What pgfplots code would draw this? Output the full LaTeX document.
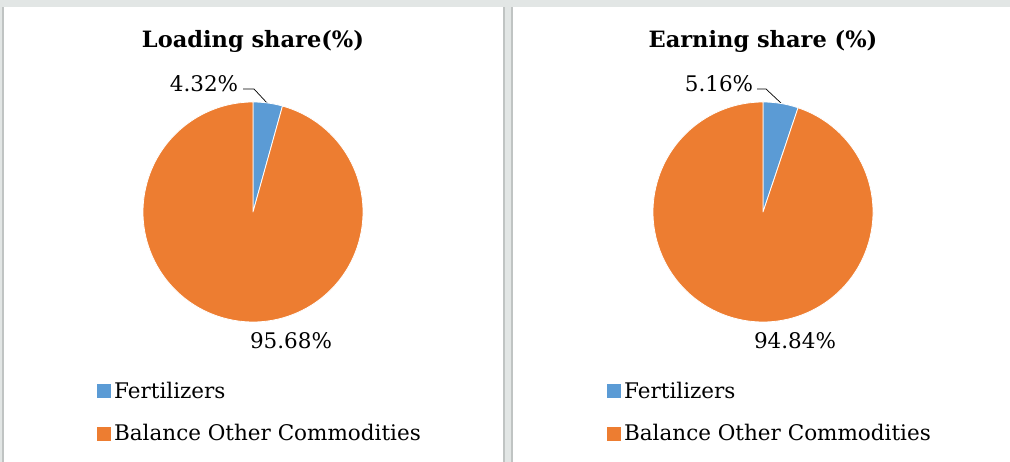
\documentclass[border=0pt]{standalone}
\usepackage{fontspec}
\setmainfont{DejaVu Serif}
\usepackage{pgfplots}
\usepackage{pgfplotstable}
\pgfplotsset{compat=1.18}
\definecolor{pieblue}{HTML}{5B9BD5}
\definecolor{pieorange}{HTML}{ED7D31}
\definecolor{bggray}{HTML}{E2E6E5}
\definecolor{linegray}{HTML}{C0C4C3}
\newcommand\fs{\fontsize{21.5}{24}\selectfont}
\newcommand\tfs{\fontsize{22.5}{26}\selectfont\bfseries}

\pgfplotstableread{
share cum
4.32  0
95.68 4.32
}\loadingtable
\pgfplotstableread{
share cum
5.16  0
94.84 5.16
}\earningtable

\pgfplotsset{
  piechart/.style={
    hide axis, x=1pt, y=1pt,
    xmin=-110, xmax=110, ymin=-110, ymax=110,
    anchor=center, clip=false,
    legend image code/.code={\fill[##1] (0pt,-6.5pt) rectangle (13pt,6.5pt);},
    legend cell align=left,
    legend style={draw=none, fill=none, inner sep=0pt, font=\fs,
      at={(-0.2091,-0.2637)}, anchor=north west,
      row sep=22pt, column sep=2pt,
      nodes={inner sep=1.5pt}},
  },
  pieslices/.style={
    scatter, only marks, mark=*, mark size=0pt, forget plot,
    mark options={draw=none, fill=none},
    visualization depends on={\thisrow{share} \as \pieshare},
    visualization depends on={\thisrow{cum} \as \piecum},
    scatter/@pre marker code/.code={%
      \pgfmathsetmacro\pa{90-3.6*\piecum}%
      \pgfmathsetmacro\pb{90-3.6*(\piecum+\pieshare)}%
      \ifdim\piecum pt<0.5pt\def\piecol{pieblue}\else\def\piecol{pieorange}\fi
      \scope
      \filldraw[fill=\piecol, draw=white, line width=0.8pt, line join=round]
        (0pt,0pt) -- (\pa:110pt) arc[start angle=\pa, end angle=\pb, radius=110pt] -- cycle;
    },
    scatter/@post marker code/.code={\endscope},
  },
}

\begin{document}
\begin{tikzpicture}[x=1pt, y=1pt]
\useasboundingbox (0,0) rectangle (1010,462);
\fill[bggray] (0,0) rectangle (1010,462);
\fill[white] (4,0) rectangle (503,455);
\fill[linegray] (2,0) rectangle (4,455);
\fill[linegray] (503,0) rectangle (505,455);
\fill[linegray] (511,0) rectangle (513,455);
\fill[white] (513,0) rectangle (1010,455);

% Left chart
\begin{axis}[piechart, at={(253,250)}]
\addplot[pieslices] table[x expr=0, y expr=0] {\loadingtable};
\addlegendimage{pieblue}
\addlegendentry{Fertilizers}
\addlegendimage{pieorange}
\addlegendentry{Balance Other Commodities}
\node[font=\tfs, anchor=base] at (axis cs:0,164) {Loading share(\%)};
\node[font=\fs, anchor=center] at (axis cs:-49,128) {4.32\%};
\node[font=\fs, anchor=center] at (axis cs:38,-129) {95.68\%};
\draw[black, line width=0.7pt] (axis cs:-10,123) -- (axis cs:1,123) -- (axis cs:15,108);
\end{axis}

% Right chart
\begin{axis}[piechart, at={(763,250)}]
\addplot[pieslices] table[x expr=0, y expr=0] {\earningtable};
\addlegendimage{pieblue}
\addlegendentry{Fertilizers}
\addlegendimage{pieorange}
\addlegendentry{Balance Other Commodities}
\node[font=\tfs, anchor=base] at (axis cs:0,164) {Earning share (\%)};
\node[font=\fs, anchor=center] at (axis cs:-44,128) {5.16\%};
\node[font=\fs, anchor=center] at (axis cs:32,-129) {94.84\%};
\draw[black, line width=0.7pt] (axis cs:-6,123) -- (axis cs:3,123) -- (axis cs:19,108);
\end{axis}
\end{tikzpicture}
\end{document}
